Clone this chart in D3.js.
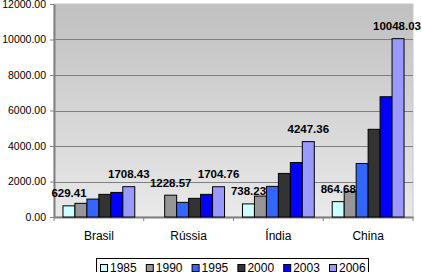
<!DOCTYPE html>
<html>
<head>
<meta charset="utf-8">
<script src="https://cdn.jsdelivr.net/npm/d3@7"></script>
<style>
body { margin: 0; background: #fff; }
text { font-family: "Liberation Sans", Arial, sans-serif; }
</style>
</head>
<body>
<svg id="chart" width="422" height="272"></svg>
<script>
var countries = ['Brasil', 'Rússia', 'Índia', 'China'],
  years = ['1985', '1990', '1995', '2000', '2003', '2006'],
  colors = ['#ccffff', '#969696', '#3366ff', '#333333', '#0000ff', '#9999ff'],
  yTicks = [0, 2000, 4000, 6000, 8000, 10000, 12000];

// one row per country, one value per year (null = no bar)
var brasil = [629.41, 770, 1010, 1275, 1385, 1708.43],
  russia = [null, 1228.57, 825, 1050, 1275, 1704.76],
  india = [738.23, 1180, 1725, 2455, 3070, 4247.36],
  china = [864.68, 1445, 3015, 4940, 6775, 10048.03];
var values = [brasil, russia, india, china];

var svg = d3.select('#chart'),
  m = {left: 54, right: 9, top: 4, bottom: 55},
  W = 422, H = 272,
  x0, x1, y;

x0 = d3.scaleBand().domain(countries).range([m.left, W - m.right]).paddingInner(0).paddingOuter(0);
x1 = d3.scaleBand().domain(years).range([0, x0.bandwidth()]).paddingInner(0).paddingOuter(0.75);
y = d3.scaleLinear().domain([0, 12000]).range([H - m.bottom, m.top]);

var defs = svg.append('defs');
var grad = defs.append('linearGradient').attr('id', 'bg')
  .attr('x1', 0).attr('y1', 0).attr('x2', 0).attr('y2', 1);
grad.append('stop').attr('offset', '0%').attr('stop-color', '#c0c0c0');
grad.append('stop').attr('offset', '100%').attr('stop-color', '#e9e9e9');

svg.append('rect')
  .attr('x', m.left).attr('y', m.top)
  .attr('width', W - m.right - m.left).attr('height', y(0) - m.top)
  .attr('fill', 'url(#bg)')
  .attr('stroke', '#c8c8c8');

// gridlines
svg.append('g').selectAll('line')
  .data(yTicks.slice(1, -1))
  .join('line')
  .attr('x1', m.left).attr('x2', W - m.right)
  .attr('y1', function(d) { return Math.round(y(d)) + 0.5; })
  .attr('y2', function(d) { return Math.round(y(d)) + 0.5; })
  .attr('stroke', '#808080');

// y axis
var yAxis = svg.append('g')
  .attr('transform', 'translate(' + m.left + ',0)')
  .call(d3.axisLeft(y).tickValues(yTicks).tickSize(4).tickSizeOuter(0).tickPadding(4)
    .tickFormat(function(d) { return d3.format('.2f')(d); }));
yAxis.selectAll('text').attr('font-size', 10.5).attr('fill', '#000')
  .style('font-family', '"Liberation Sans", Arial, sans-serif');
yAxis.selectAll('line').attr('stroke', '#808080');
yAxis.select('.domain').attr('stroke', '#808080').attr('stroke-width', 2);

// x axis
var xAxis = svg.append('g')
  .attr('transform', 'translate(0,' + y(0) + ')')
  .call(d3.axisBottom(x0).tickSize(0).tickSizeOuter(0).tickPadding(14));
xAxis.selectAll('text').attr('font-size', 12).attr('fill', '#000')
  .style('font-family', '"Liberation Sans", Arial, sans-serif');
xAxis.select('.domain').attr('stroke', '#808080').attr('stroke-width', 2);
xAxis.selectAll('.sep')
  .data(d3.range(countries.length + 1))
  .join('line')
  .attr('class', 'sep')
  .attr('x1', function(i) { return m.left + i * x0.bandwidth(); })
  .attr('x2', function(i) { return m.left + i * x0.bandwidth(); })
  .attr('y1', 0).attr('y2', 4)
  .attr('stroke', '#808080');

// bars
var groups = svg.append('g').selectAll('g')
  .data(values)
  .join('g')
  .attr('transform', function(d, i) { return 'translate(' + x0(countries[i]) + ',0)'; });

groups.selectAll('rect')
  .data(function(d) {
    return d.map(function(v, j) { return {year: years[j], value: v, c: colors[j]}; })
      .filter(function(e) { return e.value != null; });
  })
  .join('rect')
  .attr('x', function(d) { return x1(d.year); })
  .attr('width', x1.bandwidth())
  .attr('y', function(d) { return y(d.value); })
  .attr('height', function(d) { return y(0) - y(d.value); })
  .attr('fill', function(d) { return d.c; })
  .attr('stroke', '#000')
  .attr('stroke-width', 1);

// labels: first and last value of each country
groups.each(function(d, i) {
  var g = d3.select(this),
    gx = x0(countries[i]),
    idx = d.map(function(v, j) { return v == null ? -1 : j; }).filter(function(j) { return j >= 0; });
  [idx[0], idx[idx.length - 1]].forEach(function(j) {
    var t = g.append('text')
      .attr('y', y(d[j]) - 8.5)
      .attr('text-anchor', 'middle')
      .attr('font-size', 11.5)
      .attr('font-weight', 'bold')
      .text(d3.format('.2f')(d[j]));
    var cx = x1(years[j]) + x1.bandwidth() / 2,
      half = t.node().getComputedTextLength() / 2;
    // keep the label inside the page, as the spreadsheet does
    cx = Math.min(cx, W - 1 - half - gx);
    t.attr('x', cx);
  });
});

// legend
var lg = svg.append('g').attr('transform', 'translate(96,258)');
lg.append('rect').attr('x', 0.5).attr('y', 0.5).attr('width', 272).attr('height', 20)
  .attr('fill', '#fff').attr('stroke', '#000');
var items = lg.selectAll('g.item')
  .data(years)
  .join('g')
  .attr('class', 'item')
  .attr('transform', function(d, i) { return 'translate(' + (4 + i * 45.8) + ',0)'; });
items.append('rect')
  .attr('x', 0.5).attr('y', 6.5).attr('width', 7).attr('height', 7)
  .attr('fill', function(d, i) { return colors[i]; })
  .attr('stroke', '#000');
items.append('text')
  .attr('x', 10).attr('y', 13.8)
  .attr('font-size', 12)
  .text(function(d) { return d; });
</script>
</body>
</html>
